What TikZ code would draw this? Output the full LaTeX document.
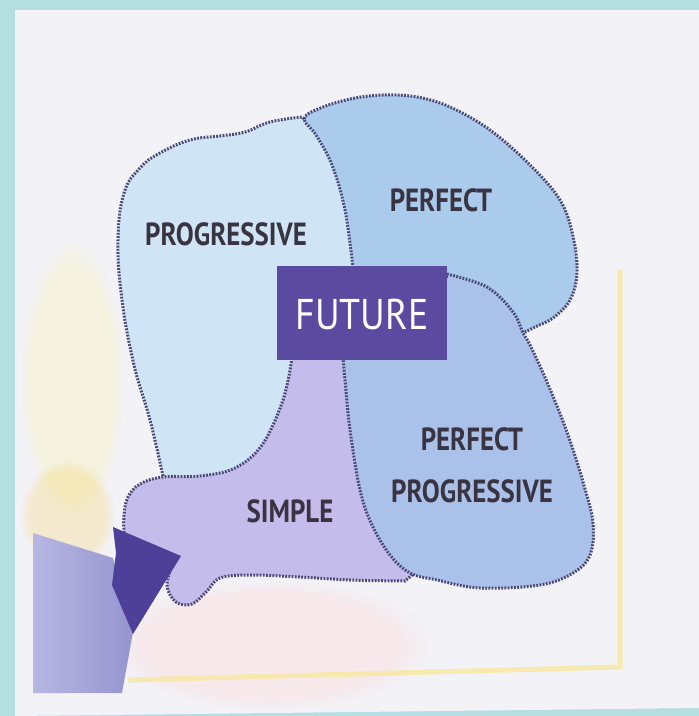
\documentclass[tikz,border=0pt]{standalone}
\usepackage{fontspec}
\setmainfont{PT Sans}
\usepackage{graphicx}
\usetikzlibrary{shapes.geometric,fadings}
\definecolor{bgteal}{HTML}{B5DEE0}
\definecolor{paper}{HTML}{F3F2F7}
\definecolor{cprog}{HTML}{CFE5F5}
\definecolor{cperf}{HTML}{AACBEC}
\definecolor{cpp}{HTML}{AAC1EA}
\definecolor{csimp}{HTML}{C4BDEB}
\definecolor{outl}{HTML}{4B4877}
\definecolor{cbox}{HTML}{5A4BA0}
\definecolor{txt}{HTML}{3A3442}
\definecolor{darktri}{HTML}{4E3F98}
\definecolor{lightpur}{HTML}{A9AADD}
\definecolor{frameyel}{HTML}{F7E8A0}
\newcommand\sx[1]{\scalebox{0.84}[1]{#1}}
\tikzset{
  blob/.style={draw=outl, line width=1.5pt, dash pattern=on 0.9pt off 0.7pt},
  lbl/.style={text=txt, font=\fontsize{16}{26}\selectfont\bfseries, align=center, inner sep=0pt},
  glow/.style={path fading=circle with fuzzy edge 20 percent},
}
\begin{document}
\begin{tikzpicture}[x=0.5pt,y=-0.5pt]
\useasboundingbox (0,0) rectangle (699,716);
% background
\fill[bgteal] (0,0) rectangle (699,716);
\fill[paper] (15,10) -- (699,10) -- (699,708) -- (15,716) -- cycle;
% faint decorations
\fill[yellow!70, opacity=0.14, glow] (20,240) rectangle (125,520);
\fill[orange!50!yellow, opacity=0.16, glow] (20,460) rectangle (115,570);
\fill[pink!70, opacity=0.3, glow] (110,580) rectangle (430,710);
\draw[frameyel, line width=2.5pt, opacity=0.8] (620,270) -- (620,667) -- (128,680);
% light purple wedge
\shade[left color=lightpur!85!white, right color=lightpur!80!darktri] (33,533) -- (113,558) -- (133,632) -- (122,693) -- (33,693) -- cycle;
% PROGRESSIVE blob
\path[blob, fill=cprog] plot[smooth, tension=0.7] coordinates {(163,476) (150,420) (134,365) (122,300) (118,240) (124,193) (140,168) (160,153) (190,140) (220,136) (245,132) (270,122) (302,117)}
  -- (330,140) -- (380,150) -- (380,300) -- (355,340) -- (300,420) -- (200,500) -- (168,490) -- cycle;
% PERFECT blob
\path[blob, fill=cperf] plot[smooth, tension=0.6] coordinates {(353,268) (345,210) (332,165) (316,135) (304,119) (318,109) (350,99) (383,95) (417,97) (450,107) (490,130) (530,165) (560,200) (573,236) (577,273) (570,300) (553,318) (535,327) (523,333)}
  -- (470,335) -- (420,320) -- (360,300) -- cycle;
% SIMPLE blob
\path[blob, fill=csimp] plot[smooth, tension=0.6] coordinates {(292,358) (283,400) (262,445) (235,468) (200,476) (163,477) (140,484) (128,497) (124,515) (124,535)}
  -- (150,560) -- (172,565)
  -- plot[smooth, tension=0.6] coordinates {(172,565) (167,586) (176,602) (192,604) (207,591) (220,578) (250,575) (300,577) (350,580) (405,581)}
  -- (430,560) -- (400,450) -- (360,365) -- (340,340) -- (300,345) -- cycle;
% PERFECT PROGRESSIVE blob
\path[blob, fill=cpp] plot[smooth, tension=0.6] coordinates {(447,274) (487,287) (513,312) (523,333) (530,345) (547,382) (567,432) (583,482) (593,523) (590,555) (573,573) (540,585) (480,588) (437,580) (410,573) (390,555) (372,525) (360,490) (350,430) (345,380) (343,358)}
  -- (343,330) -- (440,300) -- cycle;
% arrowhead
\fill[darktri] (113,527) -- (181,556) -- (133,634) -- (112,585) -- (116,553) -- cycle;
% FUTURE box
\node[fill=cbox, minimum width=85pt, minimum height=47pt, inner sep=0pt, anchor=north west] (future) at (277,266) {};
\node[text=white, font=\fontsize{21.5}{24}\selectfont, inner sep=0pt] (futuretxt) at (362,314) {\scalebox{0.88}[1]{FUTURE}};
% labels
\node[lbl] (prog) at (226,234) {\sx{PROGRESSIVE}};
\node[lbl] (perf) at (441,200) {\sx{PERFECT}};
\node[lbl] (pp) at (472,465) {\sx{PERFECT}\\\sx{PROGRESSIVE}};
\node[lbl] (simp) at (290,511) {\sx{SIMPLE}};
\end{tikzpicture}
\end{document}
